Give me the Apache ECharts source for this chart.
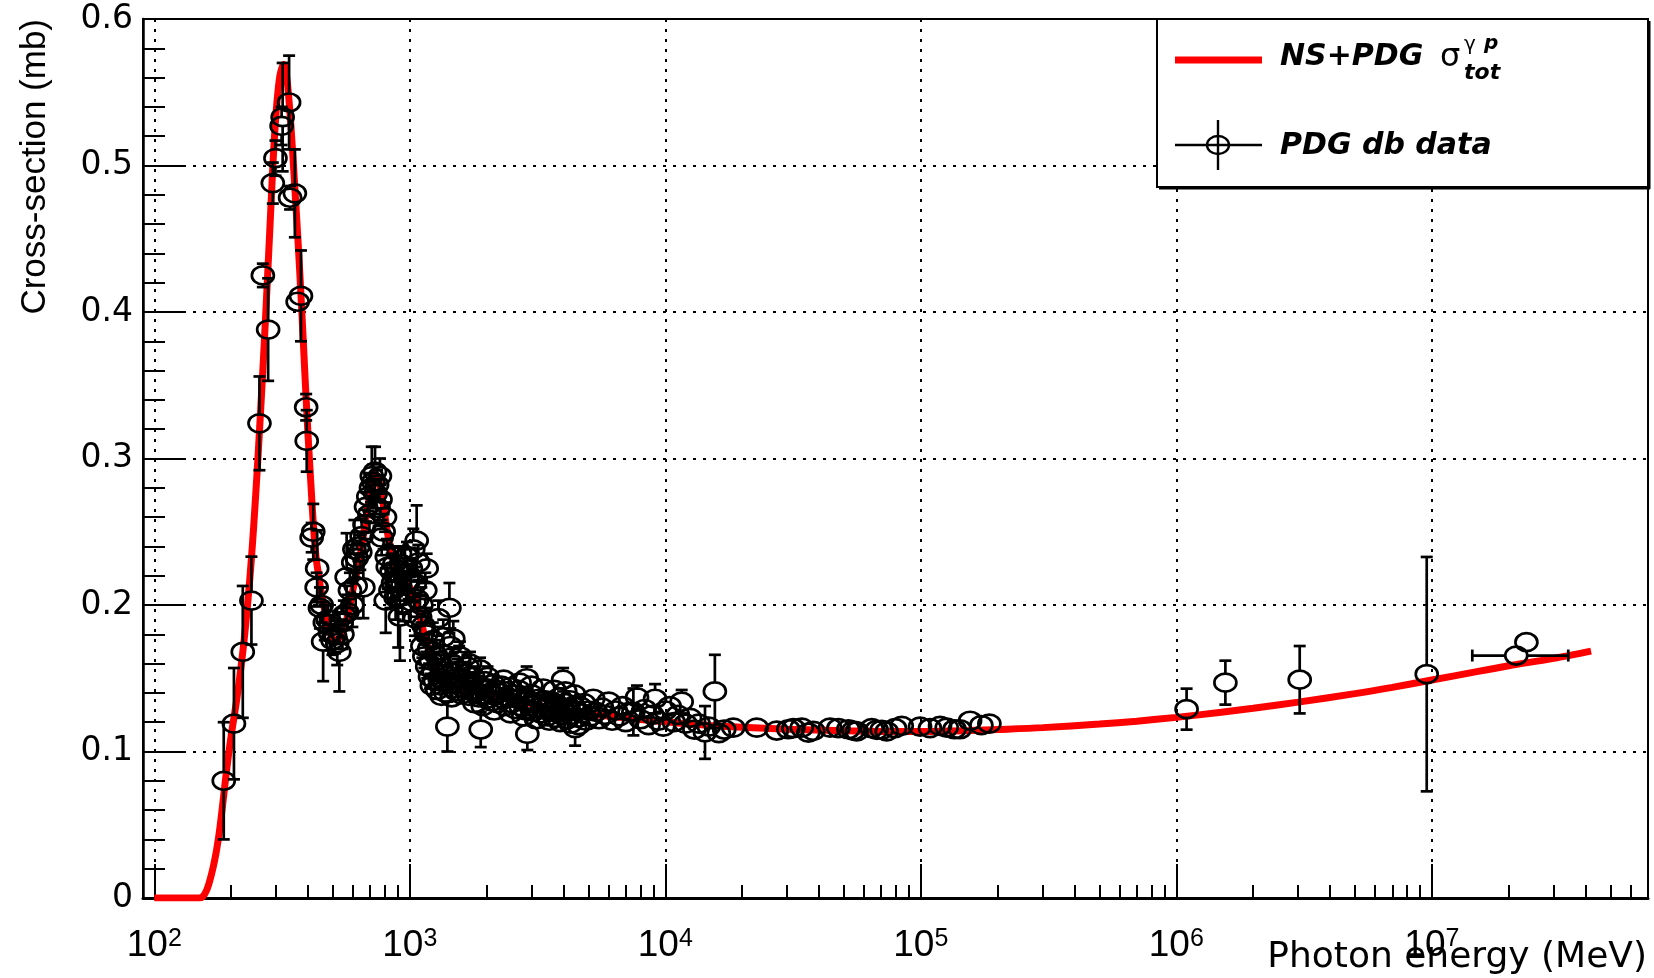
<!DOCTYPE html>
<html>
<head>
<meta charset="utf-8">
<script src="https://cdn.jsdelivr.net/npm/echarts@6/dist/echarts.min.js"></script>
<style>html,body{margin:0;padding:0;background:#fff}#chart{width:1654px;height:978px}</style>
</head>
<body>
<div id="chart"></div>
<script>
// ---------- axis ranges and ticks ----------
const X_MIN = 90.33;
const X_MAX = 7.015e7;
const xMajorTicks = [1e2, 1e3, 1e4, 1e5, 1e6, 1e7];
const xMinorTicks = [200,300,400,500,600,700,800,900,
  2000,3000,4000,5000,6000,7000,8000,9000,
  2e4,3e4,4e4,5e4,6e4,7e4,8e4,9e4,
  2e5,3e5,4e5,5e5,6e5,7e5,8e5,9e5,
  2e6,3e6,4e6,5e6,6e6,7e6,8e6,9e6,
  2e7,3e7,4e7,5e7,6e7];
const yTickLabels = ['0','0.1','0.2','0.3','0.4','0.5','0.6'];
const xTitle = 'Photon energy (MeV)';
const yTitle = 'Cross-section (mb)';

// ---------- NS+PDG model curve ----------
const curveE = [100,140,150,155,160,165,170,175,180,185,190,195,200,205,210,215,220,225,230,235,240,245,250,255,260,265,270,275,280,285,290,295,300,305,310,315,320,325,330,335,340,345,350,360,370,380,390,400,410,420,430,440,450,460,475,490,505,520,540,560,580,600,620,640,660,680,700,720,735,750,770,790,810,830,850,880,920,960,1000,1040,1080,1120,1160,1200,1250,1300,1400,1600,1800,2000,2500,3000,3500,4000,5000,6500,8000,10000,12000,15000,20000,30000,50000,70000,100000,150000,200000,300000,500000,700000,1000000,1500000,2000000,3000000,5000000,7000000,10000000,15000000,20000000,30000000,42000000];
const curveSigma = [0,0,0,0.001,0.005,0.012,0.021,0.032,0.046,0.063,0.081,0.097,0.111,0.123,0.135,0.148,0.162,0.177,0.194,0.212,0.232,0.254,0.278,0.303,0.329,0.355,0.382,0.410,0.438,0.466,0.494,0.518,0.537,0.551,0.561,0.566,0.569,0.567,0.560,0.549,0.535,0.519,0.502,0.467,0.431,0.392,0.352,0.315,0.283,0.253,0.232,0.220,0.209,0.200,0.189,0.180,0.176,0.176,0.180,0.187,0.198,0.211,0.222,0.234,0.249,0.264,0.277,0.286,0.289,0.287,0.279,0.267,0.254,0.243,0.234,0.226,0.221,0.217,0.212,0.205,0.196,0.185,0.175,0.166,0.158,0.152,0.147,0.1435,0.141,0.139,0.1355,0.1325,0.130,0.128,0.1255,0.1235,0.1218,0.1203,0.119,0.1178,0.1165,0.1152,0.1141,0.1137,0.1137,0.1142,0.115,0.1163,0.1187,0.1207,0.1233,0.1268,0.1295,0.1337,0.1395,0.1438,0.1488,0.1545,0.1585,0.1636,0.1685];

// ---------- PDG data: resonance region ----------
const resE = [187,205,222,240,258,266,279,291,298,315,318,337,340,355,364,375,393,395,413,419,432,434,445,452,458,465,477,487,498,510,520,530,541,545,552,566,570,583,596,601,607,614,620,629,640,648,658,665,674,688,695,705,710,720,731,735,745,755,764,768,776,790,800,805,813,820,840,849,860,870,880,890,901,910,915,925,935,943,957,975,990,1010,1032,1045,1047,1064,1070,1080,1096,1110,1150,1164];
const resSigma = [0.080,0.119,0.168,0.203,0.324,0.425,0.388,0.488,0.505,0.527,0.533,0.543,0.478,0.481,0.407,0.411,0.335,0.312,0.246,0.250,0.212,0.225,0.198,0.200,0.175,0.188,0.190,0.181,0.176,0.179,0.174,0.168,0.188,0.180,0.193,0.219,0.195,0.210,0.200,0.229,0.238,0.213,0.232,0.240,0.236,0.247,0.212,0.255,0.267,0.274,0.262,0.280,0.288,0.284,0.291,0.276,0.282,0.266,0.288,0.272,0.246,0.250,0.260,0.203,0.233,0.226,0.210,0.223,0.215,0.228,0.205,0.218,0.205,0.215,0.192,0.228,0.206,0.201,0.226,0.233,0.216,0.225,0.238,0.214,0.191,0.244,0.204,0.229,0.192,0.200,0.210,0.225];
const resErr = [0.040,0.038,0.045,0.030,0.032,0.008,0.035,0.014,0.012,0.013,0.037,0.032,0.008,0.030,0.006,0.031,0.009,0.021,0.010,0.019,0.010,0.026,0.014,0.012,0.027,0.012,0.010,0.012,0.010,0.012,0.015,0.027,0.010,0.010,0.010,0.030,0.012,0.012,0.015,0.012,0.020,0.022,0.010,0.010,0.012,0.012,0.021,0.010,0.010,0.010,0.012,0.010,0.020,0.012,0.017,0.010,0.010,0.012,0.012,0.010,0.012,0.012,0.010,0.022,0.012,0.015,0.012,0.012,0.010,0.012,0.015,0.012,0.034,0.012,0.030,0.012,0.012,0.012,0.012,0.010,0.012,0.014,0.014,0.012,0.012,0.024,0.012,0.012,0.015,0.012,0.012,0.010];

// ---------- PDG data: multi-particle region ----------
const multiE = [1120,1130,1140,1160,1170,1190,1200,1210,1220,1230,1240,1255,1265,1280,1293,1300,1310,1325,1340,1352,1365,1380,1403,1410,1429,1440,1450,1465,1480,1490,1505,1520,1540,1555,1571,1590,1610,1630,1650,1675,1700,1720,1745,1770,1800,1830,1860,1884,1895,1910,1940,1970,2000,2030,2060,2090,2120,2150,2180,2210,2250,2280,2310,2350,2390,2430,2470,2510,2550,2590,2630,2670,2710,2750,2800,2850,2867,2884,2920,2960,3000,3050,3100,3150,3200,3250,3300,3350,3400,3450,3500,3550,3600,3650,3700,3750,3800,3850,3900,3950,3981,4020,4080,4130,4180,4240,4300,4350,4436,4480,4550,4620,4700,4800,4900,5000,5100,5224,5350,5500,5650,5800,6000,6200,6400,6600,6800,7000,7250,7500,7750,8000,8300,8600,8900,9120,9400,9820,10000,10400,10800,11200,11590,12000,12500,13000,13500,14300,14800,15630,16200,17000,
  1330,1460,1560,1680,1720,1790,1930,2015,2140,2330,2480,2690,2780,2990,3120,3330,3520,3680,3880,4060,4260,4400,4580];
const multiSigma = [0.172,0.186,0.165,0.180,0.158,0.170,0.151,0.162,0.145,0.176,0.155,0.148,0.166,0.142,0.191,0.160,0.150,0.145,0.155,0.178,0.148,0.140,0.117,0.152,0.198,0.172,0.146,0.160,0.177,0.143,0.150,0.141,0.155,0.146,0.165,0.139,0.149,0.143,0.153,0.145,0.138,0.147,0.142,0.151,0.140,0.146,0.137,0.156,0.115,0.144,0.139,0.148,0.136,0.143,0.140,0.134,0.146,0.138,0.142,0.133,0.140,0.145,0.136,0.131,0.141,0.137,0.144,0.133,0.139,0.129,0.136,0.142,0.131,0.137,0.134,0.128,0.150,0.112,0.135,0.131,0.139,0.127,0.133,0.130,0.136,0.126,0.132,0.129,0.135,0.124,0.131,0.127,0.134,0.129,0.123,0.132,0.127,0.137,0.125,0.130,0.149,0.127,0.133,0.122,0.129,0.135,0.125,0.131,0.116,0.128,0.123,0.131,0.126,0.133,0.121,0.128,0.124,0.136,0.127,0.122,0.130,0.125,0.134,0.121,0.128,0.124,0.131,0.120,0.127,0.127,0.137,0.122,0.129,0.118,0.125,0.136,0.121,0.117,0.128,0.131,0.120,0.125,0.134,0.119,0.123,0.115,0.119,0.113,0.117,0.141,0.1125,0.115,
  0.138,0.137,0.162,0.158,0.160,0.133,0.131,0.151,0.128,0.149,0.126,0.147,0.124,0.145,0.122,0.143,0.121,0.142,0.120,0.141,0.119,0.139,0.118];
const multiErr = [0.008,0.010,0.008,0.012,0.008,0.010,0.008,0.009,0.006,0.012,0.007,0.006,0.010,0.006,0.012,0.008,0.006,0.006,0.008,0.012,0.006,0.006,0.017,0.007,0.017,0.012,0.006,0.010,0.012,0.006,0.007,0.006,0.008,0.006,0.010,0.006,0.006,0.006,0.008,0.006,0.006,0.006,0.006,0.007,0.005,0.006,0.005,0.008,0.012,0.006,0.005,0.006,0.005,0.005,0.005,0.005,0.006,0.005,0.005,0.005,0.005,0.006,0.005,0.005,0.005,0.005,0.006,0.005,0.005,0.005,0.005,0.005,0.005,0.005,0.005,0.005,0.008,0.011,0.005,0.005,0.005,0.005,0.005,0.005,0.005,0.004,0.005,0.004,0.005,0.004,0.005,0.004,0.005,0.004,0.004,0.005,0.004,0.005,0.004,0.004,0.008,0.004,0.005,0.004,0.004,0.005,0.004,0.005,0.012,0.004,0.004,0.005,0.004,0.005,0.004,0.004,0.004,0.006,0.004,0.004,0.005,0.004,0.006,0.004,0.005,0.004,0.005,0.004,0.005,0.016,0.008,0.004,0.005,0.004,0.005,0.010,0.004,0.005,0.005,0.005,0.004,0.005,0.008,0.004,0.005,0.005,0.004,0.018,0.004,0.025,0.004,0.004,
  0.006,0.006,0.010,0.008,0.008,0.006,0.006,0.007,0.005,0.006,0.005,0.006,0.005,0.006,0.005,0.006,0.005,0.006,0.005,0.006,0.005,0.006,0.005];

// ---------- PDG data: plateau region ----------
const flatE = [18450,22800,27300,30300,31700,34200,36300,37950,44150,47600,52050,54450,56150,64250,67200,70300,73550,79300,84200,99300,108600,118900,126300,135500,142200,155900,172600,185500];
const flatSigma = [0.1163,0.1163,0.1143,0.1152,0.1159,0.1163,0.1129,0.1141,0.1163,0.1159,0.1152,0.1143,0.1137,0.1159,0.1148,0.1148,0.1137,0.1159,0.1175,0.1170,0.1159,0.1175,0.1163,0.1152,0.1152,0.1210,0.1180,0.1190];
const flatErr = [0.004,0.003,0.003,0.003,0.003,0.003,0.003,0.003,0.003,0.003,0.003,0.003,0.003,0.003,0.003,0.003,0.003,0.003,0.003,0.003,0.003,0.003,0.003,0.003,0.003,0.003,0.003,0.003];

// ---------- PDG data: highest energies ----------
const highE = [1.097e6,1.556e6,3.04e6,9.55e6,2.14e7,2.345e7];
const highSigma = [0.1289,0.147,0.149,0.1528,0.1655,0.1746];
const highErr = [0.014,0.015,0.023,0.080,0.002,0.002];
const highExLow = [0,0,0,0,0.70e7,0];
const highExHigh = [0,0,0,0,1.28e7,0];

// ---------- build series data ----------
const curveData = curveE.map((e, i) => [e, curveSigma[i]]);
const pointData = [];
resE.forEach((e, i) => pointData.push([e, resSigma[i], resErr[i], 0, 0]));
multiE.forEach((e, i) => pointData.push([e, multiSigma[i], multiErr[i], 0, 0]));
flatE.forEach((e, i) => pointData.push([e, flatSigma[i], flatErr[i], 0, 0]));
highE.forEach((e, i) => pointData.push([e, highSigma[i], highErr[i], highExLow[i], highExHigh[i]]));

const RX = 11, RY = 9, CAP = 6, LW = 2.7;
function seg(x1, y1, x2, y2) {
  return {type: 'line', shape: {x1, y1, x2, y2}, style: {stroke: '#000', lineWidth: LW}};
}
function renderPoint(params, api) {
  const E = api.value(0), s = api.value(1), es = api.value(2), exl = api.value(3), exh = api.value(4);
  const c = api.coord([E, s]);
  const kids = [];
  if (es > 0) {
    const t = api.coord([E, s + es])[1];
    const b = api.coord([E, s - es])[1];
    if (c[1] - t > RY) { kids.push(seg(c[0], c[1] - RY, c[0], t)); kids.push(seg(c[0] - CAP, t, c[0] + CAP, t)); }
    if (b - c[1] > RY) { kids.push(seg(c[0], c[1] + RY, c[0], b)); kids.push(seg(c[0] - CAP, b, c[0] + CAP, b)); }
  }
  if (exl > 0) {
    const l = api.coord([E - exl, s])[0];
    if (c[0] - l > RX) { kids.push(seg(l, c[1], c[0] - RX, c[1])); kids.push(seg(l, c[1] - CAP, l, c[1] + CAP)); }
  }
  if (exh > 0) {
    const r = api.coord([E + exh, s])[0];
    if (r - c[0] > RX) { kids.push(seg(c[0] + RX, c[1], r, c[1])); kids.push(seg(r, c[1] - CAP, r, c[1] + CAP)); }
  }
  kids.push({type: 'ellipse', shape: {cx: c[0], cy: c[1], rx: RX, ry: RY},
             style: {fill: 'none', stroke: '#000', lineWidth: LW}});
  return {type: 'group', children: kids};
}

const chart = echarts.init(document.getElementById('chart'), null, {renderer: 'canvas'});
const gridDots = {type: [3, 7], color: '#000', width: 2};

chart.setOption({
  animation: false,
  backgroundColor: '#fff',
  grid: {left: 143, top: 19, right: 6, bottom: 80, show: true, borderColor: '#000', borderWidth: 2,
         containLabel: false, outerBoundsMode: 'none'},
  xAxis: [{
    type: 'log', logBase: 10, min: X_MIN, max: X_MAX,
    axisLine: {show: true, onZero: false, lineStyle: {color: '#000', width: 3}},
    axisTick: {show: true, inside: true, length: 34, lineStyle: {color: '#000', width: 2}, customValues: xMajorTicks},
    axisLabel: {
      customValues: xMajorTicks, margin: 29, color: '#000',
      formatter: v => '{b|10}{s|' + Math.round(Math.log10(v)) + '}',
      rich: {
        b: {fontFamily: 'Liberation Sans', fontSize: 37, lineHeight: 37, padding: [7, 0, 0, 0], verticalAlign: 'bottom', color: '#000'},
        s: {fontFamily: 'Liberation Sans', fontSize: 25, lineHeight: 25, verticalAlign: 'top', color: '#000'}
      }
    },
    splitLine: {show: true, lineStyle: gridDots},
    minorTick: {show: false}, minorSplitLine: {show: false}
  }, {
    type: 'log', logBase: 10, min: X_MIN, max: X_MAX, position: 'bottom',
    axisLine: {show: false},
    axisTick: {show: true, inside: true, length: 13, lineStyle: {color: '#000', width: 2}, customValues: xMinorTicks},
    axisLabel: {show: false},
    splitLine: {show: false}
  }],
  yAxis: {
    type: 'value', min: 0, max: 0.6, interval: 0.1,
    axisLine: {show: true, lineStyle: {color: '#000', width: 2.5}},
    axisTick: {show: true, inside: true, length: 43, lineStyle: {color: '#000', width: 2}},
    minorTick: {show: true, splitNumber: 5, length: 22, lineStyle: {color: '#000', width: 2}},
    axisLabel: {
      margin: 10, color: '#000', fontFamily: 'DejaVu Sans', fontSize: 33,
      formatter: v => yTickLabels[Math.round(v * 10)]
    },
    splitLine: {show: true, lineStyle: gridDots}
  },
  series: [{
    name: 'NS+PDG σ tot γp',
    type: 'line', data: curveData, xAxisIndex: 0, yAxisIndex: 0,
    showSymbol: false, symbol: 'none', smooth: 0.3, z: 2,
    lineStyle: {color: '#ff0000', width: 7}
  }, {
    name: 'PDG db data',
    type: 'custom', data: pointData, xAxisIndex: 0, yAxisIndex: 0,
    renderItem: renderPoint, encode: {x: 0, y: 1}, z: 3, clip: true
  }],
  graphic: [
    // axis titles
    {type: 'text', z: 50, x: 1647, y: 958, style: {text: xTitle, fill: '#000', font: '36px "DejaVu Sans"', align: 'right', verticalAlign: 'middle'}},
    {type: 'text', z: 50, x: 35, y: 19, rotation: Math.PI / 2, style: {text: yTitle, fill: '#000', font: '35px "Liberation Sans"', align: 'right', verticalAlign: 'middle'}},
    // legend box
    {type: 'rect', z: 100, shape: {x: 1157, y: 19, width: 491, height: 168}, style: {fill: '#fff', stroke: '#000', lineWidth: 2}},
    {type: 'line', z: 101, shape: {x1: 1649, y1: 21, x2: 1649, y2: 189}, style: {stroke: '#000', lineWidth: 3}},
    {type: 'line', z: 101, shape: {x1: 1159, y1: 188, x2: 1650, y2: 188}, style: {stroke: '#000', lineWidth: 3}},
    {type: 'line', z: 101, shape: {x1: 1175, y1: 60, x2: 1262, y2: 60}, style: {stroke: '#ff0000', lineWidth: 7}},
    {type: 'text', z: 101, x: 1280, y: 57, style: {text: 'NS+PDG', fill: '#000', font: 'italic bold 30px "DejaVu Sans"', verticalAlign: 'middle'}},
    {type: 'text', z: 101, x: 1440, y: 58, style: {text: 'σ', fill: '#000', font: '32px "DejaVu Sans"', verticalAlign: 'middle'}},
    {type: 'text', z: 101, x: 1464, y: 45, style: {text: 'γ', fill: '#000', font: '20px "DejaVu Sans"', verticalAlign: 'middle'}},
    {type: 'text', z: 101, x: 1484, y: 44, style: {text: 'p', fill: '#000', font: 'italic bold 20px "DejaVu Sans"', verticalAlign: 'middle'}},
    {type: 'text', z: 101, x: 1464, y: 73, style: {text: 'tot', fill: '#000', font: 'italic bold 22px "DejaVu Sans"', verticalAlign: 'middle'}},
    {type: 'line', z: 101, shape: {x1: 1175, y1: 145, x2: 1262, y2: 145}, style: {stroke: '#000', lineWidth: 2.4}},
    {type: 'line', z: 101, shape: {x1: 1218, y1: 120, x2: 1218, y2: 170}, style: {stroke: '#000', lineWidth: 2.4}},
    {type: 'ellipse', z: 101, shape: {cx: 1218, cy: 145, rx: 11, ry: 9}, style: {fill: 'none', stroke: '#000', lineWidth: 2.4}},
    {type: 'text', z: 101, x: 1280, y: 146, style: {text: 'PDG db data', fill: '#000', font: 'italic bold 30px "DejaVu Sans"', verticalAlign: 'middle'}}
  ]
});
</script>
</body>
</html>
